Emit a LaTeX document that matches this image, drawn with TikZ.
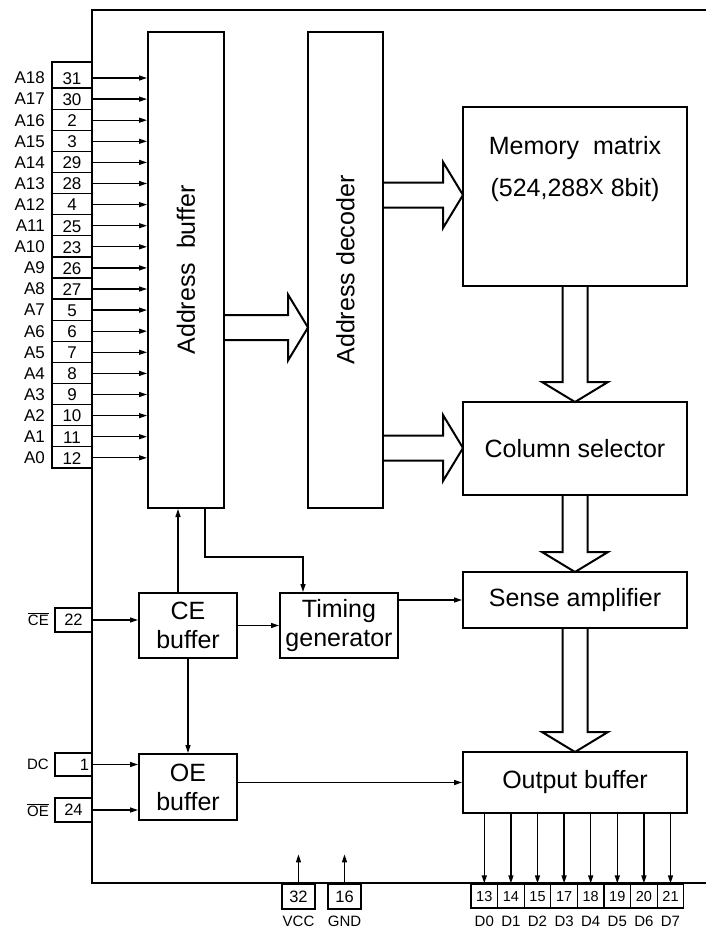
\documentclass[tikz,border=0pt]{standalone}
\usepackage{fontspec}
\setmainfont{Liberation Sans}
\usetikzlibrary{arrows.meta}

\tikzset{
    blok/.style={draw, line width=2pt, inner sep=0pt, align=center,
                 font=\fontsize{25}{29}\selectfont},
    pinbox/.style={draw, line width=1.3pt, inner sep=0pt,
                   font=\fontsize{16.5}{18}\selectfont},
    pinlbl/.style={inner sep=0pt, font=\fontsize{17}{19}\selectfont},
    smlbl/.style={inner sep=0pt, font=\fontsize{15}{17}\selectfont},
    sip/.style={-{Triangle[length=8pt,width=5pt]}, line width=1.3pt},
}

% hollow bus arrows
\newcommand{\busR}[3]{% from x #1 to x #2 at y #3
    \draw[line width=2pt, line join=miter] (#1,#3-12.5) -- (#2-20,#3-12.5) -- (#2-20,#3-33)
        -- (#2,#3) -- (#2-20,#3+33) -- (#2-20,#3+12.5) -- (#1,#3+12.5);}
\newcommand{\busD}[3]{% at x #1 from y #2 to y #3
    \draw[line width=2pt, line join=miter] (#1-12.5,#2) -- (#1-12.5,#3-20) -- (#1-33,#3-20)
        -- (#1,#3) -- (#1+33,#3-20) -- (#1+12.5,#3-20) -- (#1+12.5,#2);}

\begin{document}
\begin{tikzpicture}[x=1pt,y=-1pt]

    \useasboundingbox (0,0) rectangle (706,930);

    % frame of the chip
    \draw[line width=2pt] (706,10) -| (92,883) -- (706,883);

    % blocks
    \node[blok, minimum width=76pt, minimum height=476pt] (abuf) at (186,270) {};
    \node[rotate=90, font=\fontsize{25}{29}\selectfont] (abuftxt) at (abuf) {Address\ \ buffer};
    \node[blok, minimum width=75pt, minimum height=476pt] (adec) at (345.5,270) {};
    \node[rotate=90, font=\fontsize{25}{29}\selectfont] (adectxt) at (adec) {Address decoder};
    \node[blok, minimum width=224pt, minimum height=179pt] (mem) at (575,196.5) {};
    \node[font=\fontsize{25}{42}\selectfont, align=center] (memtxt) at ([yshift=-63pt]mem.north)
        {Memory\ \ matrix\\(524,288{\raisebox{2pt}{\fontsize{22}{22}\selectfont X}} 8bit)};
    \node[blok, minimum width=224pt, minimum height=93pt] (col) at (575,448.5) {Column selector};
    \node[blok, minimum width=224pt, minimum height=56pt] (sense) at (575,600) {Sense amplifier};
    \node[blok, minimum width=224pt, minimum height=61pt] (outb) at (575,782.5) {Output buffer};
    \node[blok, minimum width=98pt, minimum height=65pt] (ceb) at (188,625.5) {CE\\buffer};
    \node[blok, minimum width=98pt, minimum height=66pt] (oeb) at (188,787) {OE\\buffer};
    \node[blok, minimum width=118pt, minimum height=65pt] (tim) at (339,625.5) {Timing\\generator};

    % address pins
    \foreach \n/\a [count=\i from 0] in {31/A18,30/A17,2/A16,3/A15,29/A14,28/A13,4/A12,
            25/A11,23/A10,26/A9,27/A8,5/A7,6/A6,7/A5,8/A4,9/A3,10/A2,11/A1,12/A0} {
        \pgfmathsetmacro{\h}{\i==0 ? 26 : 21.1}
        \pgfmathsetmacro{\yc}{77.5+21.1*\i-(\i==0 ? 2.5 : 0)}
        \node[pinbox, minimum width=40pt, minimum height=\h pt] (pa\i) at (72,\yc) {};
        \node[pinlbl] (na\i) at (72,78.5+21.1*\i) {\n};
        \node[pinlbl, anchor=east] (la\i) at (45,78+21.1*\i) {\a};
        \draw[sip] (72,78+21.1*\i) ++(20,0) coordinate (ca\i) -- (ca\i -| abuf.west);
    }

    % control pins
    \node[pinbox, minimum width=37pt, minimum height=24pt] (pce) at (73.5,620) {22};
    \node[smlbl, anchor=east] (lce) at (49,619) {$\overline{\hbox{CE}}$};
    \node[pinbox, minimum width=37pt, minimum height=23pt, text width=31pt, align=right] (pdc) at (73.5,764.5) {1};
    \node[smlbl, anchor=east] (ldc) at (49,764) {DC};
    \node[pinbox, minimum width=37pt, minimum height=24pt] (poe) at (73.5,810) {24};
    \node[smlbl, anchor=east] (loe) at (49,810) {$\overline{\hbox{OE}}$};

    \draw[sip] (pce.east) -- (pce.east -| ceb.west);
    \draw[sip] (pdc.east) -- (pdc.east -| oeb.west);
    \draw[sip] (poe.east) -- (poe.east -| oeb.west);

    % control signals
    \draw[sip] ([xshift=-10pt]ceb.north) -- ([xshift=-10pt]ceb.north |- abuf.south);
    \draw[sip] ([xshift=19pt]abuf.south) -- ++(0,48) -| ([xshift=-36pt]tim.north);
    \draw[sip] (ceb.east) -- (ceb.east -| tim.west);
    \draw[sip] (sense.west -| tim.east) -- (sense.west);
    \draw[sip] (ceb.south) -- (oeb.north);
    \draw[sip] (outb.west -| oeb.east) -- (outb.west);

    % buses
    \busR{224}{308}{327.5}
    \busR{383}{463}{195}
    \busR{383}{463}{448}
    \busD{575}{286}{402}
    \busD{575}{495}{572}
    \busD{575}{628}{752}

    % data pins
    \foreach \n [count=\i from 0] in {13,14,15,17,18,19,20,21} {
        \node[pinbox, minimum width=26.6pt, minimum height=24pt, text height=10.5pt, text depth=0pt,
              font=\fontsize{14.5}{16}\selectfont] (pd\i) at (484.3+26.6*\i,896) {\n};
        \node[smlbl, anchor=base] (ld\i) at ([yshift=-30pt]pd\i.center) {D\i};
        \draw[sip] (pd\i.north |- outb.south) -- (pd\i.north);
    }

    % power pins
    \node[pinbox, minimum width=33pt, minimum height=25pt] (pvcc) at (298.5,896.5) {32};
    \node[pinbox, minimum width=33pt, minimum height=25pt] (pgnd) at (344.5,896.5) {16};
    \node[smlbl, anchor=base] (lvcc) at ([yshift=-30pt]pvcc.center) {VCC};
    \node[smlbl, anchor=base] (lgnd) at ([yshift=-30pt]pgnd.center) {GND};
    \coordinate (vcctop) at ([yshift=29pt]pvcc.north);
    \coordinate (gndtop) at ([yshift=29pt]pgnd.north);
    \draw[sip] (pvcc.north) -- (vcctop);
    \draw[sip] (pgnd.north) -- (gndtop);

\end{tikzpicture}
\end{document}
